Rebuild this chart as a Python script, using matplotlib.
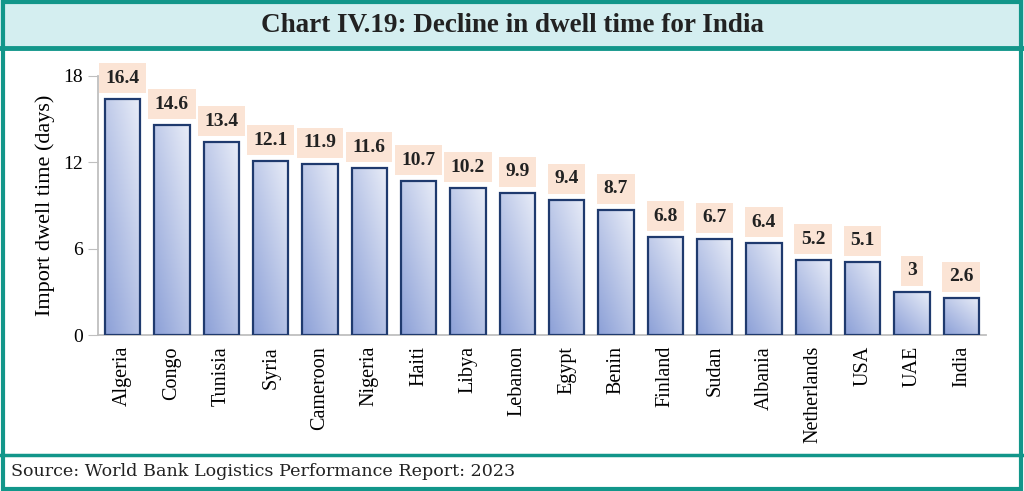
import numpy as np
import matplotlib.pyplot as plt
from matplotlib.patches import Rectangle
from matplotlib.colors import LinearSegmentedColormap

countries = ["Algeria", "Congo", "Tunisia", "Syria", "Cameroon", "Nigeria",
             "Haiti", "Libya", "Lebanon", "Egypt", "Benin", "Finland",
             "Sudan", "Albania", "Netherlands", "USA", "UAE", "India"]
dwell_days = [16.4, 14.6, 13.4, 12.1, 11.9, 11.6, 10.7, 10.2, 9.9, 9.4,
              8.7, 6.8, 6.7, 6.4, 5.2, 5.1, 3, 2.6]
labels = ["16.4", "14.6", "13.4", "12.1", "11.9", "11.6", "10.7", "10.2",
          "9.9", "9.4", "8.7", "6.8", "6.7", "6.4", "5.2", "5.1", "3", "2.6"]
yticks = [0, 6, 12, 18]

teal = "#12968a"
serif = ["Liberation Serif", "DejaVu Serif"]

fig = plt.figure(figsize=(10.24, 4.91), dpi=100)

# frame, title band and source band
fig.patches.append(Rectangle((0, 1 - 48 / 491), 1, 48 / 491, transform=fig.transFigure,
                             facecolor="#d4eef0", edgecolor="none", zorder=0))
fig.patches.append(Rectangle((0.003, 0.004), 0.994, 0.992, transform=fig.transFigure,
                             facecolor="none", edgecolor=teal, linewidth=3, zorder=5))
fig.add_artist(plt.Line2D([0, 1], [1 - 48 / 491] * 2, transform=fig.transFigure,
                          color=teal, linewidth=3.5))
fig.add_artist(plt.Line2D([0, 1], [1 - 455 / 491] * 2, transform=fig.transFigure,
                          color=teal, linewidth=2.5))

fig.text(0.5, 1 - 25 / 491, "Chart IV.19: Decline in dwell time for India",
         ha="center", va="center", fontsize=19.5, fontweight="bold",
         family=serif, color="#222222")
fig.text(0.011, 1 - 471 / 491, "Source: World Bank Logistics Performance Report: 2023",
         ha="left", va="center", fontsize=12.6, family=["DejaVu Serif"], color="#222222")

ax = fig.add_axes([98 / 1024, 1 - 335 / 491, 888 / 1024, 259 / 491])
x = np.arange(len(countries))
bars = ax.bar(x, dwell_days, width=0.71, facecolor="none",
              edgecolor="#1f3a6e", linewidth=1.6, zorder=3)

cmap = LinearSegmentedColormap.from_list("g", ["#8ca0d7", "#e9edf8"])
uu, vv = np.meshgrid(np.linspace(0, 1, 50), np.linspace(0, 1, 50))
grad = 0.45 * uu + 0.55 * vv
for b in bars:
    x0, y0 = b.get_x(), b.get_y()
    im = ax.imshow(grad, cmap=cmap, origin="lower", aspect="auto",
                   extent=[x0, x0 + b.get_width(), y0, y0 + b.get_height()],
                   zorder=2, vmin=0, vmax=1)
    im.set_clip_path(b)

for xi, v, lab in zip(x, dwell_days, labels):
    ax.text(xi, v + 1.45, lab, ha="center", va="center",
            fontsize=14, fontweight="bold", family=serif, color="#222222",
            bbox=dict(boxstyle="square,pad=0.34", facecolor="#fbe4d5",
                      edgecolor="none"), zorder=4)

ax.set_xlim(-0.5, len(countries) - 0.5)
ax.set_ylim(0, 18)
ax.set_yticks(yticks)
ax.set_xticks(x)
ax.set_xticklabels(countries, rotation=90, family=serif, fontsize=14.5)
ax.tick_params(axis="x", length=0, pad=8)
ax.tick_params(axis="y", length=7, color="#bfbfbf", labelsize=14, pad=4)
for t in ax.get_yticklabels():
    t.set_family(serif)
ax.set_ylabel("Import dwell time (days)", family=serif, fontsize=16, labelpad=6)
for s in ["top", "right"]:
    ax.spines[s].set_visible(False)
for s in ["left", "bottom"]:
    ax.spines[s].set_color("#bfbfbf")
    ax.spines[s].set_linewidth(1.3)

fig.savefig("out.png", dpi=100)
